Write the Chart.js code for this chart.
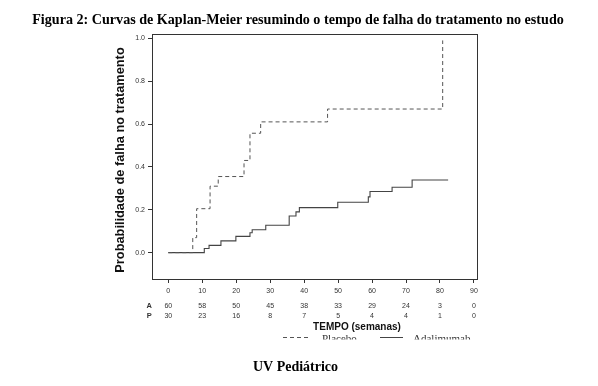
<!DOCTYPE html>
<html>
<head>
<meta charset="utf-8">
<script src="https://cdn.jsdelivr.net/npm/chart.js@4/dist/chart.umd.min.js"></script>
<style>
  html, body { margin: 0; padding: 0; background: #fff; }
  #c { display: block; }
</style>
</head>
<body>
<canvas id="c" width="598" height="386"></canvas>
<script>
// ---- data ----
const titleText = "Figura 2: Curvas de Kaplan-Meier resumindo o tempo de falha do tratamento no estudo";
const captionText = "UV Pediátrico";
const yAxisTitle = "Probabilidade de falha no tratamento";
const xAxisTitle = "TEMPO (semanas)";
const seriesNames = ["Placebo", "Adalimumab"];

const placeboTime = [0, 7.2, 8.35, 12.3, 14.7, 22.3, 24.05, 27.2, 46.9, 80.8];
const placeboProb = [0, 0.07, 0.205, 0.31, 0.355, 0.43, 0.557, 0.61, 0.67, 0.99];

const adalTime = [0, 10.6, 12.0, 15.5, 19.9, 24.05, 24.7, 28.7, 35.6, 37.6, 38.6, 49.9, 58.9, 59.4, 65.9, 71.8, 82.4];
const adalProb = [0, 0.019, 0.034, 0.055, 0.076, 0.093, 0.107, 0.128, 0.171, 0.19, 0.21, 0.235, 0.26, 0.285, 0.305, 0.339, 0.339];

const xTicks = [0, 10, 20, 30, 40, 50, 60, 70, 80, 90];
const yTicks = [0, 0.2, 0.4, 0.6, 0.8, 1.0];

const riskLabels = ["A", "P"];
const riskA = [60, 58, 50, 45, 38, 33, 29, 24, 3, 0];
const riskP = [30, 23, 16, 8, 7, 5, 4, 4, 1, 0];

// ---- build ----
const toPts = (xs, ys) => xs.map((x, i) => ({ x: x, y: ys[i] }));

const extras = {
  id: 'extras',
  beforeDraw(chart) {
    const ctx = chart.ctx;
    ctx.save();
    ctx.fillStyle = '#fff';
    ctx.fillRect(0, 0, chart.width, chart.height);
    ctx.restore();
  },
  afterDraw(chart) {
    const ctx = chart.ctx;
    const a = chart.chartArea;
    const xs = chart.scales.x;
    ctx.save();
    // frame
    ctx.strokeStyle = '#333';
    ctx.lineWidth = 1;
    ctx.strokeRect(Math.round(a.left) + 0.5, Math.round(a.top) + 0.5,
                   Math.round(a.right - a.left) - 1, Math.round(a.bottom - a.top));

    // title
    ctx.fillStyle = '#000';
    ctx.textAlign = 'center';
    ctx.textBaseline = 'alphabetic';
    ctx.font = 'bold 14px "Liberation Serif"';
    const w = ctx.measureText(titleText).width;
    const fs = 14 * 532 / w;
    ctx.font = 'bold ' + fs.toFixed(2) + 'px "Liberation Serif"';
    ctx.fillText(titleText, 298, 23.5);

    // caption
    ctx.font = 'bold 14px "Liberation Serif"';
    ctx.fillText(captionText, 295.5, 371);

    // y axis title
    ctx.save();
    ctx.translate(123.5, 160);
    ctx.rotate(-Math.PI / 2);
    ctx.font = 'bold 12.8px "Liberation Sans"';
    ctx.fillStyle = '#111';
    ctx.textAlign = 'center';
    ctx.fillText(yAxisTitle, 0, 0);
    ctx.restore();

    // risk table
    ctx.fillStyle = '#333';
    ctx.font = '7px "Liberation Sans"';
    ctx.textBaseline = 'middle';
    ctx.textAlign = 'center';
    const rowY = [306.3, 315.7];
    [riskA, riskP].forEach((row, r) => {
      row.forEach((v, i) => {
        ctx.fillText(String(v), xs.getPixelForValue(xTicks[i]), rowY[r]);
      });
    });
    ctx.font = 'bold 7.5px "Liberation Sans"';
    riskLabels.forEach((l, r) => ctx.fillText(l, 149.3, rowY[r]));

    // x axis title
    ctx.fillStyle = '#111';
    ctx.font = 'bold 10px "Liberation Sans"';
    ctx.fillText(xAxisTitle, 357, 327);

    // legend (clipped at bottom like the reference)
    ctx.save();
    ctx.beginPath();
    ctx.rect(0, 300, chart.width, 39.5);
    ctx.clip();
    ctx.strokeStyle = '#555';
    ctx.lineWidth = 1;
    ctx.setLineDash([4, 3]);
    ctx.beginPath();
    ctx.moveTo(283, 337.5); ctx.lineTo(308, 337.5);
    ctx.stroke();
    ctx.setLineDash([]);
    ctx.strokeStyle = '#444';
    ctx.beginPath();
    ctx.moveTo(380, 337.5); ctx.lineTo(403, 337.5);
    ctx.stroke();
    ctx.fillStyle = '#333';
    ctx.font = '11px "Liberation Serif"';
    ctx.textAlign = 'left';
    ctx.textBaseline = 'alphabetic';
    ctx.fillText(seriesNames[0], 322, 342);
    ctx.fillText(seriesNames[1], 413, 342);
    ctx.restore();

    ctx.restore();
  }
};

new Chart(document.getElementById('c'), {
  type: 'line',
  data: {
    datasets: [
      {
        label: seriesNames[0],
        data: toPts(placeboTime, placeboProb),
        stepped: true,
        borderColor: '#555',
        borderWidth: 1,
        borderDash: [4, 3],
        pointRadius: 0,
        fill: false
      },
      {
        label: seriesNames[1],
        data: toPts(adalTime, adalProb),
        stepped: true,
        borderColor: '#444',
        borderWidth: 1.1,
        pointRadius: 0,
        fill: false
      }
    ]
  },
  options: {
    responsive: false,
    animation: false,
    devicePixelRatio: 1,
    layout: { padding: { left: 100, top: 34, right: 120, bottom: 87 } },
    plugins: {
      legend: { display: false },
      title: { display: false },
      tooltip: { enabled: false }
    },
    scales: {
      x: {
        type: 'linear',
        min: -4.8,
        max: 91.2,
        afterBuildTicks: s => { s.ticks = xTicks.map(v => ({ value: v })); },
        afterFit: s => { s.height = 20; },
        grid: { drawOnChartArea: false, drawTicks: true, tickLength: 4, color: '#333' },
        border: { display: false },
        ticks: {
          font: { family: 'Liberation Sans', size: 7 },
          color: '#333',
          padding: 4,
          maxRotation: 0,
          autoSkip: false,
          callback: v => String(v)
        }
      },
      y: {
        type: 'linear',
        min: -0.123,
        max: 1.02,
        afterBuildTicks: s => { s.ticks = yTicks.map(v => ({ value: v })); },
        afterFit: s => { s.width = 52; },
        grid: { drawOnChartArea: false, drawTicks: true, tickLength: 4, color: '#333' },
        border: { display: false },
        ticks: {
          font: { family: 'Liberation Sans', size: 7 },
          color: '#333',
          padding: 3,
          autoSkip: false,
          callback: v => Number(v).toFixed(1)
        }
      }
    }
  },
  plugins: [extras]
});
</script>
</body>
</html>
